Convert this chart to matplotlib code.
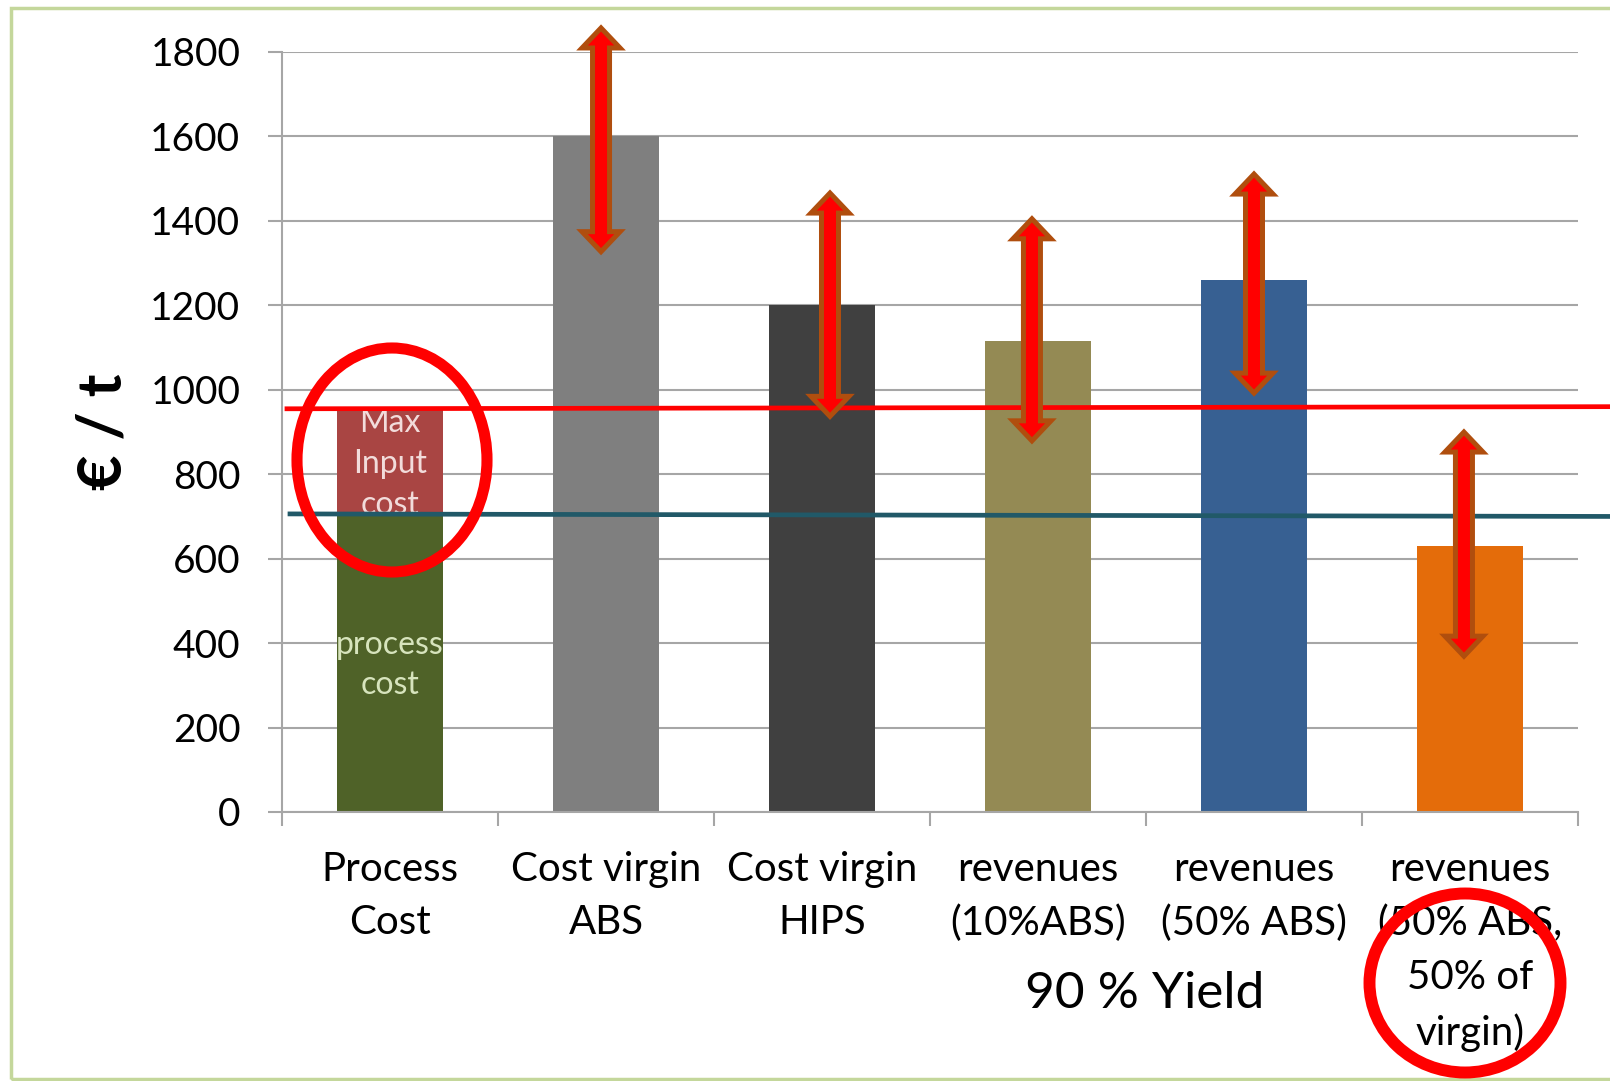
import matplotlib.pyplot as plt
import numpy as np
from matplotlib.patches import Polygon, Ellipse, Rectangle
from matplotlib.transforms import IdentityTransform

plt.rcParams['font.family'] = ['Lato', 'DejaVu Sans']

# data
categories = ["Process\nCost", "Cost virgin\nABS", "Cost virgin\nHIPS",
              "revenues\n(10%ABS)", "revenues\n(50% ABS)",
              "revenues\n(50% ABS,\n50% of\nvirgin)"]
bar_values = [700, 1600, 1200, 1115, 1260, 630]
bar_colors = ['#4f6228', '#7f7f7f', '#404040', '#948a54', '#376092', '#e46c0a']
max_input_cost = 955
arrow_low = [None, 1320, 930, 872, 985, 362]
arrow_high = [None, 1864, 1473, 1412, 1518, 907]
arrow_shift = [0, -0.023, 0.037, -0.028, 0.0, -0.028]
red_line = [955, 960]
teal_line = [706, 700]
yticks = [0, 200, 400, 600, 800, 1000, 1200, 1400, 1600, 1800]

W, H = 1610, 1081
fig = plt.figure(figsize=(W / 100, H / 100), dpi=100)
ax = fig.add_axes([282 / W, 1 - 812 / H, (1578 - 282) / W, (812 - 52) / H])

x = np.arange(len(categories))
ax.bar(x, bar_values, width=0.49, color=bar_colors, zorder=2)
# max input cost stacked on process cost
top_bar = ax.bar(x[0], max_input_cost - bar_values[0], bottom=bar_values[0], width=0.49,
                 color='#a94543', zorder=2)

ax.set_xlim(-0.5, 5.5)
ax.set_ylim(0, 1800)
ax.set_yticks(yticks)
ax.yaxis.grid(True, color='#a6a6a6', lw=1.5, zorder=0)
ax.set_axisbelow(True)
for s in ['top', 'right']:
    ax.spines[s].set_visible(False)
for s in ['left', 'bottom']:
    ax.spines[s].set_color('#a6a6a6')
    ax.spines[s].set_linewidth(1.5)

ax.set_xticks(x)
ax.set_xticklabels(categories, fontsize=29, linespacing=1.55, va='top')
ax.set_xticks(np.arange(-0.5, 6, 1), minor=True)
ax.tick_params(axis='x', which='major', length=0, pad=28)
ax.tick_params(axis='x', which='minor', length=10, width=1.5, color='#a6a6a6')
ax.tick_params(axis='y', labelsize=28, length=10, width=1.5, color='#a6a6a6', pad=20)

ax.set_ylabel('€ / t', fontsize=44, fontweight='bold')
ax.yaxis.set_label_coords(-0.116, 0.50)

# texts inside the first bar
t = ax.text(x[0], 824, 'Max\nInput\ncost', ha='center', va='center', fontsize=23,
            color='#f2dcdb', linespacing=1.45, zorder=3)
t.set_clip_path(top_bar[0])
ax.text(x[0], 348, 'process\ncost', ha='center', va='center', fontsize=23,
        color='#d7e4bd', linespacing=1.45, zorder=3)

# horizontal reference lines (drawn over the chart)
ax.plot([-0.477, 5.66], red_line, color='#ff0000', lw=3.4, zorder=4, clip_on=False)
ax.plot([-0.463, 5.66], teal_line, color='#215968', lw=3.4, zorder=4, clip_on=False)

# double-headed arrows
fig.canvas.draw()
for i in range(1, len(categories)):
    xc = x[i] + arrow_shift[i]
    (px, p_top), = ax.transData.transform([[xc, arrow_high[i]]])
    (_, p_bot), = ax.transData.transform([[xc, arrow_low[i]]])
    sw, hw, hl = 8.5, 19, 20
    top, bot = p_top - 3, p_bot + 3
    pts = [(px, top), (px + hw, top - hl), (px + sw, top - hl),
           (px + sw, bot + hl), (px + hw, bot + hl), (px, bot),
           (px - hw, bot + hl), (px - sw, bot + hl), (px - sw, top - hl),
           (px - hw, top - hl)]
    fig.patches.append(Polygon(pts, closed=True, facecolor='#ff0000',
                               edgecolor='#b04e0e', lw=3.6, joinstyle='miter',
                               transform=IdentityTransform(), zorder=5))

# yield label
fig.text(1145 / W, 1 - 994 / H, '90 % Yield', fontsize=37, ha='center', va='center')

# red highlight circles
fig.patches.append(Ellipse((392 / W, 1 - 460 / H), 190 / W, 224 / H, fill=False,
                           edgecolor='#ff0000', lw=8, transform=fig.transFigure, zorder=6))
fig.patches.append(Ellipse((1465 / W, 1 - 983 / H), 191 / W, 179 / H, fill=False,
                           edgecolor='#ff0000', lw=8.6, transform=fig.transFigure, zorder=6))

# light green frame
fig.patches.append(Rectangle((11 / W, 1 - 1079 / H), 1.05, (1079 - 8) / H, fill=False,
                             edgecolor='#c4d79b', lw=2.5, transform=fig.transFigure))

fig.savefig('out.png', dpi=100)
